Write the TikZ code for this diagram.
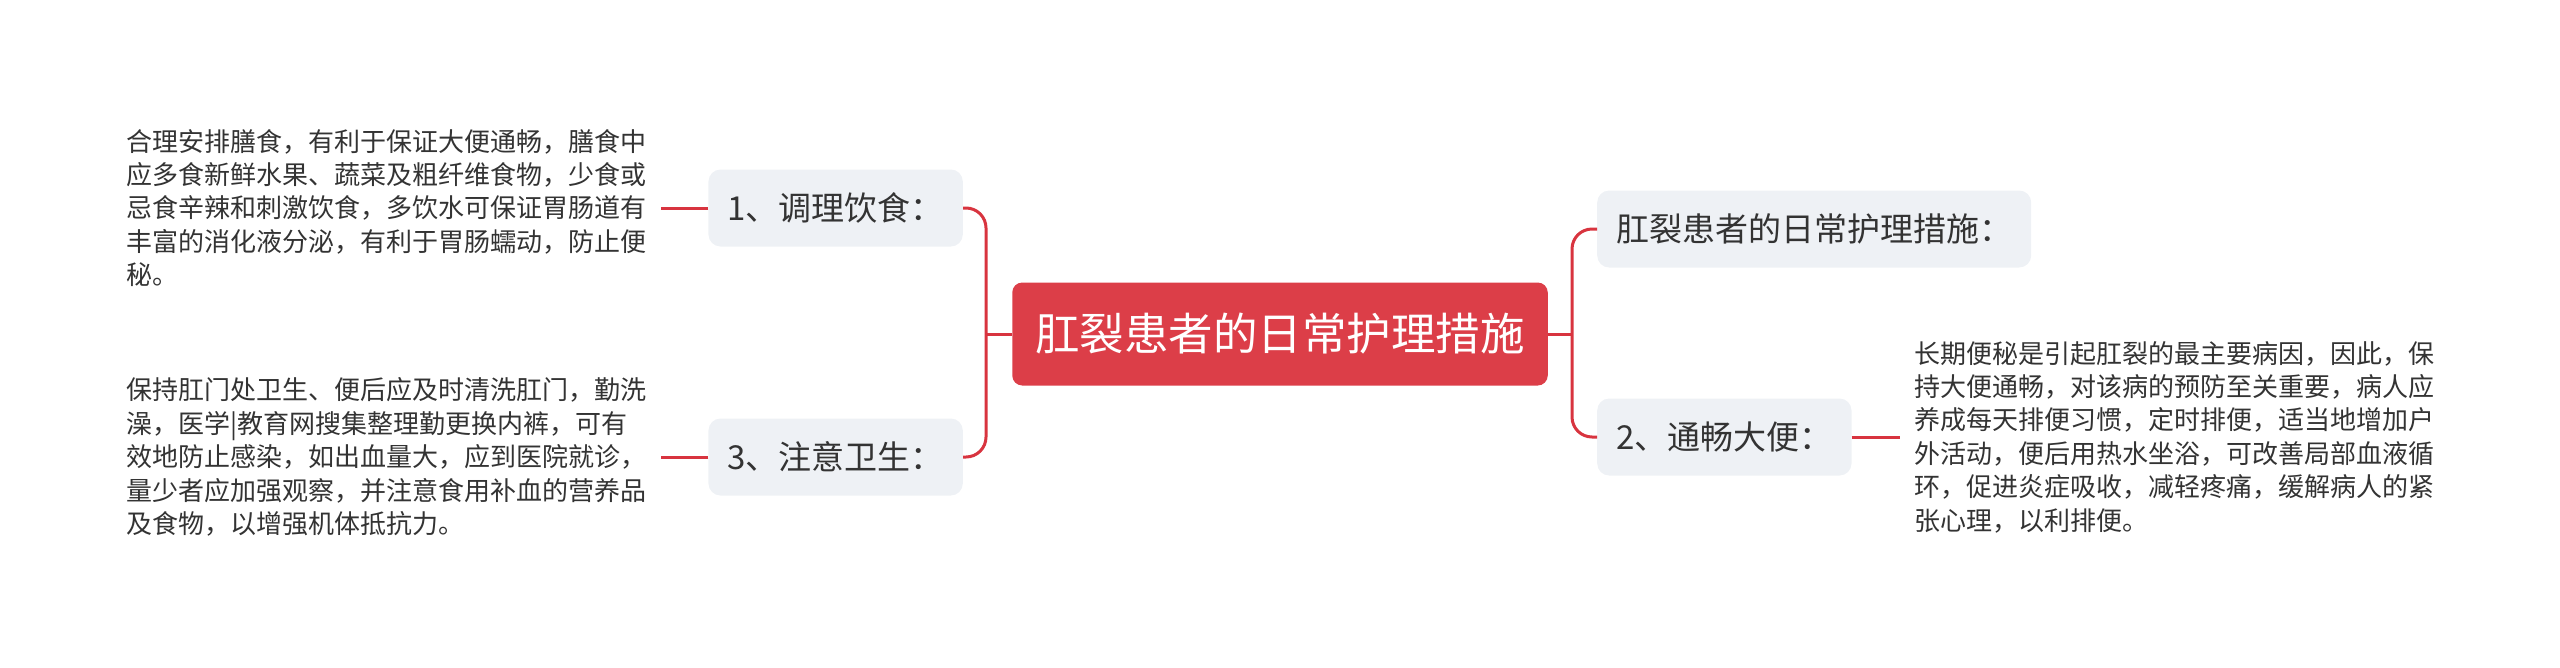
\documentclass[tikz,border=0pt]{standalone}
\usepackage{fontspec}
\setmainfont{Noto Sans CJK SC}
\usepackage{xcolor}
\usetikzlibrary{positioning}
\definecolor{rootred}{HTML}{DC3E48}
\definecolor{linkred}{HTML}{D8343F}
\definecolor{boxgray}{HTML}{EEF1F5}
\definecolor{txtgray}{HTML}{333333}
\tikzset{
    root/.style={fill=rootred, rounded corners=10pt, text=white, font=\fontsize{44.5}{52}\selectfont, minimum height=103pt, inner xsep=23pt},
    branch/.style={fill=boxgray, rounded corners=12pt, text=txtgray, font=\fontsize{33}{40}\selectfont, minimum height=77pt, inner xsep=19pt},
    leaf/.style={text=txtgray, font=\fontsize{26}{33.4}\selectfont, align=left, inner xsep=15pt},
    link/.style={draw=linkred, line width=3pt, rounded corners=20pt}
}

\begin{document}
\begin{tikzpicture}[x=1pt,y=-1pt]
        \useasboundingbox (0,0) rectangle (2560,667);
        \node[root] (root) at (1280,334) {肛裂患者的日常护理措施};
        \node[branch, anchor=east] (diet) at (963,208) {1、调理饮食：};
        \node[branch, anchor=east] (hyg) at (963,457) {3、注意卫生：};
        \node[branch, anchor=west] (care) at (1597,229) {肛裂患者的日常护理措施：};
        \node[branch, anchor=west] (stool) at (1597,437) {2、通畅大便：};
        \node[leaf, left=47pt of diet] (dietTxt) {合理安排膳食，有利于保证大便通畅，膳食中\\应多食新鲜水果、蔬菜及粗纤维食物，少食或\\忌食辛辣和刺激饮食，多饮水可保证胃肠道有\\丰富的消化液分泌，有利于胃肠蠕动，防止便\\秘。};
        \node[leaf, left=47pt of hyg] (hygTxt) {保持肛门处卫生、便后应及时清洗肛门，勤洗\\澡，医学|教育网搜集整理勤更换内裤，可有\\效地防止感染，如出血量大，应到医院就诊，\\量少者应加强观察，并注意食用补血的营养品\\及食物，以增强机体抵抗力。};
        \node[leaf, right=48pt of stool] (stoolTxt) {长期便秘是引起肛裂的最主要病因，因此，保\\持大便通畅，对该病的预防至关重要，病人应\\养成每天排便习惯，定时排便，适当地增加户\\外活动，便后用热水坐浴，可改善局部血液循\\环，促进炎症吸收，减轻疼痛，缓解病人的紧\\张心理，以利排便。};
        \coordinate (jl) at (986,334);
        \coordinate (jr) at (1572,334);
        \draw[link] (root.west) -- (jl);
        \draw[link] (diet.east) -| (jl) |- (hyg.east);
        \draw[link] (root.east) -- (jr);
        \draw[link] (care.west) -| (jr) |- (stool.west);
        \draw[link] (diet.west) -- (dietTxt.east);
        \draw[link] (hyg.west) -- (hygTxt.east);
        \draw[link] (stool.east) -- (stoolTxt.west);
    \end{tikzpicture}
\end{document}
